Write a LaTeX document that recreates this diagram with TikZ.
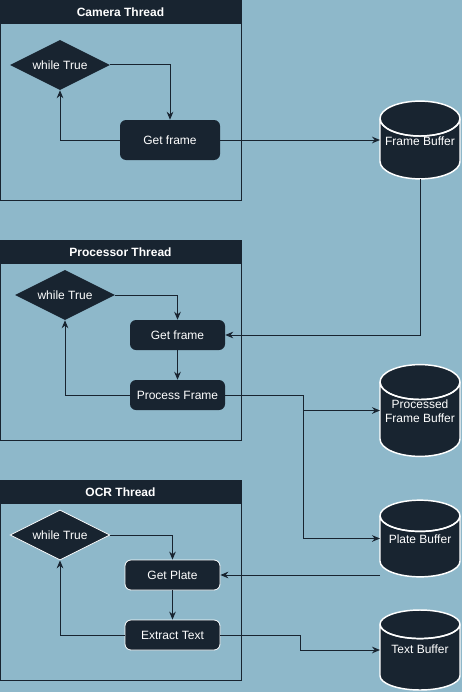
\documentclass[tikz,border=0pt]{standalone}
\usepackage{fontspec}
\setmainfont{Liberation Sans}
\usetikzlibrary{shapes.geometric,arrows.meta,calc}
\definecolor{canvas}{HTML}{8EB8CA}
\definecolor{ink}{HTML}{182430}
\tikzset{
  txt/.style={font=\fontsize{9}{10.5}\selectfont},
  thread/.style={shape=rectangle,draw=ink,line width=0.75pt,minimum width=180.75pt,minimum height=150pt,inner sep=0pt},
  header/.style={shape=rectangle,fill=ink,text=white,font=\fontsize{9}{10.5}\selectfont\bfseries,minimum width=180.75pt,minimum height=18pt,inner sep=0pt},
  loopcheck/.style={txt,shape=diamond,fill=ink,text=white,aspect=2,minimum width=75pt,minimum height=37.5pt,inner sep=0pt},
  task/.style={txt,shape=rectangle,rounded corners=4.5pt,fill=ink,text=white,minimum width=71.25pt,minimum height=22.5pt,inner sep=0pt},
  store/.style={txt,shape=cylinder,shape border rotate=90,aspect=0.5,draw=white,line width=1.1pt,fill=ink,text=white,minimum width=60pt,minimum height=57pt,align=center,inner sep=0pt,outer sep=0pt,anchor=shape center,text depth=12pt},
  flow/.style={draw=ink,line width=0.75pt,-{Stealth[length=6pt,width=5pt,inset=2pt]}},
  wire/.style={draw=ink,line width=0.75pt}
}
\newcommand{\storelid}[1]{%
  \draw[white,line width=1.1pt] let \p1=(#1.north), \p2=(#1.before top), \p3=(#1.east), \p4=(#1.west) in
    (#1.west |- #1.before top) arc[start angle=180,end angle=360,x radius={(\x3-\x4)/2},y radius={\y1-\y2}];}
\begin{document}
\begin{tikzpicture}[x=0.75pt,y=-0.75pt]
  \fill[canvas] (0,0) rectangle (462,692);
  \useasboundingbox (0,0) rectangle (462,692);

  \node[thread] (camera) at (120.5,100) {};
  \node[header] (camerahead) at (120.5,12) {Camera Thread};
  \node[loopcheck] (cw) at (60,65) {while True};
  \node[task,minimum width=75pt,minimum height=30pt] (cg) at (170,140) {Get frame};

  \node[thread] (processor) at (120.5,340) {};
  \node[header] (processorhead) at (120.5,252) {Processor Thread};
  \node[loopcheck] (pw) at (65,295) {while True};
  \node[task] (pg) at (177.5,335) {Get frame};
  \node[task] (pp) at (177.5,395) {Process Frame};

  \node[thread] (ocr) at (120.5,580) {};
  \node[header] (ocrhead) at (120.5,492) {OCR Thread};
  \node[loopcheck,draw=white,line width=0.6pt] (ow) at (60,535) {while True};
  \node[task,draw=white,line width=0.6pt] (og) at (172.5,575) {Get Plate};
  \node[task,draw=white,line width=0.6pt] (oe) at (172.5,635) {Extract Text};

  \node[store,minimum height=52.5pt] (fb) at (420,140) {Frame Buffer};
  \node[store,minimum height=56pt] (pfb) at (420,410.5) {Processed\\Frame Buffer};
  \node[store,minimum height=57.5pt] (plb) at (420,538.5) {Plate Buffer};
  \node[store,minimum height=60pt] (tb) at (420,650) {Text Buffer};
  \storelid{fb}
  \storelid{pfb}
  \storelid{plb}
  \storelid{tb}

  \coordinate (pj) at (303,395);
  \coordinate (oj) at (300,635);

  \draw[flow] (cw.east) -| (cg.north);
  \draw[flow] (cg.west) -| (cw.south);
  \draw[flow] (cg.east) -- (cg.east -| fb.west);
  \draw[flow] (fb.south) |- (pg.east);

  \draw[flow] (pw.east) -| (pg.north);
  \draw[flow] (pg) -- (pp);
  \draw[flow] (pp.west) -| (pw.south);
  \draw[wire] (pp.east) -- (pj);
  \draw[flow] (pj) |- (pfb.shape center -| pfb.west);
  \draw[flow] (pj) |- (plb.shape center -| plb.west);

  \draw[flow] (ow.east) -| (og.north);
  \draw[flow] (og) -- (oe);
  \draw[flow] (oe.west) -| (ow.south);
  \draw[flow] (plb.west |- og.east) -- (og.east);
  \draw[wire] (oe.east) -- (oj);
  \draw[flow] (oj) |- (tb.shape center -| tb.west);
\end{tikzpicture}
\end{document}
